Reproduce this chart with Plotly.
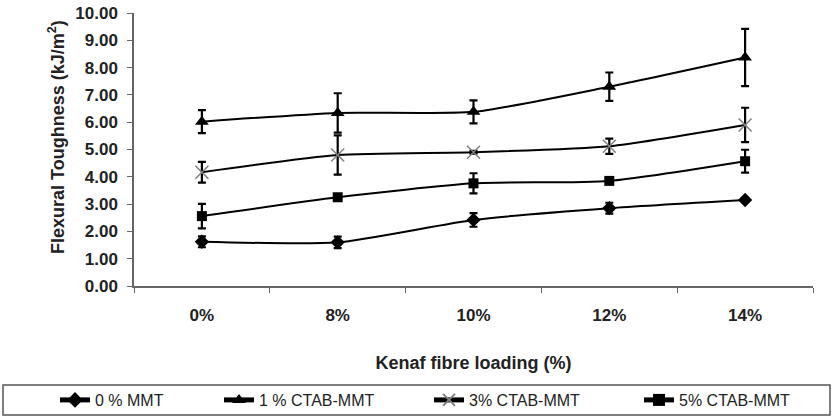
import plotly.graph_objects as go

categories = ["0%", "8%", "10%", "12%", "14%"]
series_names = ["0 % MMT", "1 % CTAB-MMT", "3% CTAB-MMT", "5% CTAB-MMT"]
mmt0 = [1.62, 1.60, 2.42, 2.85, 3.15]
mmt0_err = [0.20, 0.21, 0.25, 0.20, 0.05]
ctab1 = [6.02, 6.34, 6.38, 7.30, 8.37]
ctab1_err = [0.42, 0.72, 0.42, 0.52, 1.05]
ctab3 = [4.17, 4.80, 4.90, 5.12, 5.90]
ctab3_err = [0.38, 0.72, 0.05, 0.28, 0.63]
ctab5 = [2.56, 3.25, 3.76, 3.85, 4.57]
ctab5_err = [0.45, 0.05, 0.37, 0.06, 0.42]
y_ticks = [0, 1, 2, 3, 4, 5, 6, 7, 8, 9, 10]

values = [mmt0, ctab1, ctab3, ctab5]
errors = [mmt0_err, ctab1_err, ctab3_err, ctab5_err]
markers = [
    dict(symbol="diamond", size=11, color="black"),
    dict(symbol="triangle-up", size=12, color="black"),
    dict(symbol="x-thin-open", size=13, color="#808080", line=dict(color="#808080", width=1.5)),
    dict(symbol="square", size=10, color="black"),
]
legend_ids = ["legend", "legend2", "legend3", "legend4"]
legend_left_px = [55, 219, 429, 639]

FONT = "Liberation Sans, Arial, sans-serif"

fig = go.Figure()
for name, v, e, m, lg in zip(series_names, values, errors, markers, legend_ids):
    fig.add_trace(go.Scatter(
        x=categories, y=v, name=name, mode="lines+markers", legend=lg,
        line=dict(color="black", width=2, shape="spline", smoothing=0.6),
        marker=m,
        error_y=dict(type="data", array=e, visible=True, color="black", thickness=2.2, width=4),
    ))

legend_common = dict(xref="container", yref="container", y=(417 - 400) / 417, yanchor="middle",
                     xanchor="left", itemsizing="constant",
                     font=dict(family=FONT, size=16, color="#222"),
                     bgcolor="rgba(0,0,0,0)", borderwidth=0)
layout_legends = {}
for lg, px in zip(legend_ids, legend_left_px):
    layout_legends[lg] = dict(x=px / 833, **legend_common)

fig.update_layout(
    width=833, height=417,
    margin=dict(l=134, r=20, t=13, b=131, autoexpand=False),
    paper_bgcolor="white", plot_bgcolor="white",
    showlegend=True,
    shapes=[dict(type="rect", xref="paper", yref="paper",
                 x0=(3 - 134) / 679, x1=(830 - 134) / 679,
                 y0=(286 - 415) / 273, y1=(286 - 385) / 273,
                 line=dict(color="#555", width=1.5), fillcolor="rgba(0,0,0,0)")],
    annotations=[dict(text="<b>Flexural Toughness (kJ/m<sup>2</sup>)</b>", textangle=-90,
                      xref="paper", yref="paper", x=(56 - 134) / 679, y=(286 - 137) / 273,
                      xanchor="center", yanchor="middle", showarrow=False,
                      font=dict(family=FONT, size=18, color="#222"))],
    **layout_legends,
)
fig.update_xaxes(
    type="category", range=[-0.5, 4.5], tickson="boundaries", ticks="outside", ticklen=5, tickcolor="#666",
    showline=True, linecolor="#666", linewidth=1.5, showgrid=False, automargin=False,
    tickfont=dict(family=FONT, size=17, color="#222", weight="bold"),
    ticklabelstandoff=13,
    title=dict(text="<b>Kenaf fibre loading (%)</b>", font=dict(family=FONT, size=18, color="#222"), standoff=32),
)
fig.update_yaxes(
    range=[0, 10], tickvals=y_ticks, tickformat=".2f", ticks="outside", ticklen=5, tickcolor="#666",
    showline=True, linecolor="#666", linewidth=1.5, showgrid=False, zeroline=False, automargin=False,
    tickfont=dict(family=FONT, size=17, color="#222", weight="bold"),
    ticklabelstandoff=6,
)
fig.write_html(
    "out.html",
    config={"displayModeBar": False},
    post_script="document.body.style.margin='0'; var gd=document.getElementById('{plot_id}'); Plotly.redraw(gd);",
)
